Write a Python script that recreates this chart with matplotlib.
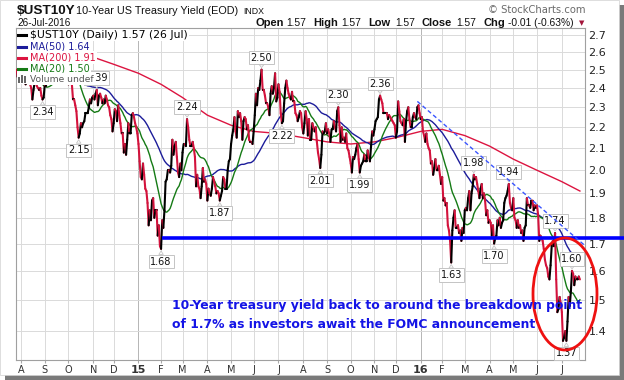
import matplotlib
matplotlib.use("Agg")
import matplotlib.pyplot as plt
import numpy as np
import pandas as pd
from matplotlib.collections import LineCollection
from matplotlib.patches import Ellipse, Rectangle
from matplotlib.lines import Line2D
from matplotlib.ticker import FixedLocator, NullLocator, FixedFormatter

# ---------------- data (daily closes, one list per month) ----------------
jul14 = [2.50, 2.46, 2.56, 2.58]
aug14 = [2.49, 2.48, 2.49, 2.48, 2.42, 2.44, 2.43, 2.46, 2.42, 2.40, 2.34, 2.39, 2.43, 2.43, 2.41, 2.40, 2.39, 2.40, 2.36, 2.34, 2.35]
sep14 = [2.42, 2.41, 2.45, 2.46, 2.47, 2.50, 2.54, 2.55, 2.61, 2.60, 2.59, 2.62, 2.63, 2.57, 2.57, 2.54, 2.57, 2.51, 2.53, 2.48, 2.52]
oct14 = [2.42, 2.44, 2.45, 2.42, 2.34, 2.34, 2.31, 2.28, 2.20, 2.15, 2.17, 2.22, 2.20, 2.22, 2.23, 2.27, 2.27, 2.27, 2.30, 2.34, 2.32, 2.35]
nov14 = [2.36, 2.34, 2.37, 2.39, 2.31, 2.36, 2.37, 2.35, 2.32, 2.34, 2.32, 2.36, 2.34, 2.31, 2.30, 2.26, 2.24, 2.18]
dec14 = [2.22, 2.29, 2.28, 2.23, 2.31, 2.26, 2.22, 2.17, 2.17, 2.08, 2.12, 2.07, 2.14, 2.22, 2.17, 2.17, 2.26, 2.27, 2.25, 2.22, 2.20, 2.17]
jan15 = [2.12, 2.04, 1.97, 1.96, 2.03, 1.98, 1.92, 1.91, 1.86, 1.77, 1.83, 1.79, 1.87, 1.88, 1.80, 1.83, 1.83, 1.73, 1.77, 1.69]
feb15 = [1.68, 1.79, 1.76, 1.83, 1.95, 1.96, 2.00, 2.00, 1.99, 2.02, 2.14, 2.07, 2.11, 2.13, 2.06, 1.99, 1.97, 2.03, 2.00]
mar15 = [2.08, 2.12, 2.12, 2.11, 2.24, 2.20, 2.14, 2.11, 2.11, 2.13, 2.10, 2.06, 1.93, 1.98, 1.93, 1.92, 1.88, 1.93, 2.01, 1.95, 1.96, 1.94]
apr15 = [1.87, 1.92, 1.90, 1.89, 1.92, 1.97, 1.95, 1.93, 1.90, 1.91, 1.90, 1.87, 1.89, 1.91, 1.97, 1.96, 1.92, 1.92, 2.00, 2.04, 2.05]
may15 = [2.12, 2.16, 2.19, 2.25, 2.18, 2.15, 2.28, 2.25, 2.27, 2.23, 2.14, 2.23, 2.25, 2.24, 2.19, 2.21, 2.14, 2.13, 2.13, 2.12]
jun15 = [2.18, 2.26, 2.37, 2.31, 2.40, 2.39, 2.44, 2.50, 2.39, 2.39, 2.36, 2.32, 2.32, 2.30, 2.26, 2.37, 2.41, 2.37, 2.40, 2.48, 2.33, 2.35]
jul15 = [2.42, 2.38, 2.27, 2.22, 2.23, 2.32, 2.40, 2.44, 2.40, 2.37, 2.35, 2.34, 2.38, 2.33, 2.33, 2.27, 2.26, 2.23, 2.25, 2.28, 2.27, 2.20]
aug15 = [2.17, 2.22, 2.28, 2.24, 2.16, 2.24, 2.14, 2.14, 2.22, 2.20, 2.18, 2.20, 2.13, 2.08, 2.05, 2.01, 2.07, 2.18, 2.17, 2.18, 2.22]
sep15 = [2.17, 2.19, 2.17, 2.13, 2.19, 2.19, 2.23, 2.20, 2.18, 2.28, 2.30, 2.21, 2.13, 2.20, 2.14, 2.15, 2.13, 2.17, 2.10, 2.09, 2.06]
oct15 = [2.03, 1.99, 2.06, 2.05, 2.07, 2.10, 2.12, 2.05, 1.99, 2.02, 2.03, 2.04, 2.07, 2.04, 2.04, 2.09, 2.06, 2.04, 2.11, 2.18, 2.16]
nov15 = [2.19, 2.23, 2.24, 2.25, 2.34, 2.36, 2.34, 2.32, 2.27, 2.27, 2.27, 2.27, 2.24, 2.26, 2.25, 2.24, 2.23, 2.22, 2.21]
dec15 = [2.15, 2.18, 2.33, 2.28, 2.23, 2.22, 2.21, 2.24, 2.13, 2.23, 2.28, 2.30, 2.24, 2.20, 2.20, 2.25, 2.27, 2.25, 2.24, 2.30, 2.31, 2.27]
jan16 = [2.24, 2.25, 2.18, 2.16, 2.13, 2.17, 2.12, 2.10, 2.09, 2.03, 2.04, 1.98, 2.01, 2.05, 2.00, 2.00, 2.02, 1.98, 1.94]
feb16 = [1.97, 1.87, 1.88, 1.85, 1.86, 1.77, 1.75, 1.71, 1.63, 1.75, 1.80, 1.83, 1.76, 1.76, 1.77, 1.74, 1.75, 1.71, 1.76, 1.74]
mar16 = [1.83, 1.84, 1.83, 1.88, 1.91, 1.83, 1.90, 1.93, 1.98, 1.96, 1.97, 1.94, 1.91, 1.88, 1.92, 1.94, 1.88, 1.90, 1.87, 1.81, 1.83, 1.78]
apr16 = [1.79, 1.78, 1.73, 1.77, 1.70, 1.72, 1.73, 1.79, 1.77, 1.80, 1.76, 1.78, 1.79, 1.86, 1.88, 1.89, 1.91, 1.94, 1.86, 1.84, 1.83]
may16 = [1.88, 1.80, 1.79, 1.76, 1.79, 1.76, 1.77, 1.74, 1.75, 1.71, 1.76, 1.77, 1.88, 1.85, 1.85, 1.84, 1.87, 1.87, 1.83, 1.85, 1.84]
jun16 = [1.85, 1.81, 1.71, 1.73, 1.72, 1.71, 1.68, 1.64, 1.62, 1.61, 1.58, 1.57, 1.62, 1.69, 1.71, 1.69, 1.74, 1.57, 1.46, 1.47, 1.51, 1.49]
jul16 = [1.46, 1.37, 1.38, 1.40, 1.37, 1.43, 1.51, 1.48, 1.53, 1.60, 1.59, 1.55, 1.58, 1.57, 1.57, 1.58, 1.57]

months = [jul14, aug14, sep14, oct14, nov14, dec14, jan15, feb15, mar15, apr15, may15, jun15,
          jul15, aug15, sep15, oct15, nov15, dec15, jan16, feb16, mar16, apr16, may16, jun16, jul16]
# labels for months aug14 .. jul16
month_labels = ['A', 'S', 'O', 'N', 'D', '15', 'F', 'M', 'A', 'M', 'J', 'J',
                'A', 'S', 'O', 'N', 'D', '16', 'F', 'M', 'A', 'M', 'J', 'J']

# MA(200) at each month start (aug14 .. jul16), plus first/last
ma200_first = 2.66
ma200_month = [2.65, 2.63, 2.60, 2.57, 2.53, 2.48, 2.42, 2.35, 2.26, 2.21, 2.18, 2.17,
               2.15, 2.13, 2.12, 2.13, 2.15, 2.18, 2.19, 2.16, 2.11, 2.05, 2.00, 1.95]
ma200_last = 1.91

# labelled extremes: (month number in `months`, trading day in month, side)
label_points = [(1, 19, 'below'), (3, 9, 'below'), (4, 3, 'above'), (7, 0, 'below'),
                (8, 4, 'above'), (9, 11, 'below'), (11, 7, 'above'), (12, 3, 'below'),
                (13, 15, 'below'), (14, 10, 'above'), (15, 8, 'below'), (16, 5, 'above'),
                (19, 8, 'below'), (20, 8, 'above'), (21, 4, 'below'), (21, 17, 'above'),
                (23, 16, 'above'), (24, 9, 'above'), (24, 4, 'below')]

support_level = 1.72
support_start = (7, 1)
trend_start = (17, 19, 2.33)
trend_end_value = 1.692

y_ticks = [1.4, 1.5, 1.6, 1.7, 1.8, 1.9, 2.0, 2.1, 2.2, 2.3, 2.4, 2.5, 2.6, 2.7]

# ---------------- derived ----------------
values = np.array([v for m in months for v in m])
n = len(values)
month_start = np.cumsum([0] + [len(m) for m in months])[:-1]
idx = np.arange(n)
s = pd.Series(values)
ma20 = s.rolling(20, min_periods=1).mean().values
ma50 = s.rolling(50, min_periods=1).mean().values
ma200_x = np.concatenate([[0], month_start[1:], [n - 1]])
ma200_y = np.concatenate([[ma200_first], ma200_month, [ma200_last]])

W, H = 624, 380
def fx(x):
    return x / W
def fy(y):
    return 1 - y / H

plt.rcParams['font.family'] = ['DejaVu Sans']
fig = plt.figure(figsize=(W / 100, H / 100), dpi=100)
fig.patch.set_facecolor('white')

# frame + shadow
fig.add_artist(Rectangle((fx(5), fy(380)), fx(619), 375 / H, transform=fig.transFigure,
                         facecolor='#7a7a7a', edgecolor='none', zorder=-20))
fig.add_artist(Rectangle((0, fy(375)), fx(619), 375 / H, transform=fig.transFigure,
                         facecolor='white', edgecolor='#d0d0d0', lw=0.5, zorder=-19))

ax = fig.add_axes([fx(16), fy(360), 569 / W, 332 / H])
ax.set_facecolor('white')
ax.set_yscale('log')
xmin, xmax = -0.5, 503.5
ax.set_xlim(xmin, xmax)
ax.set_ylim(1.313, 2.742)

ax.yaxis.set_major_locator(FixedLocator(y_ticks))
ax.yaxis.set_major_formatter(FixedFormatter([f"{t:.1f}" for t in y_ticks]))
ax.yaxis.set_minor_locator(NullLocator())
ax.yaxis.set_minor_formatter(FixedFormatter([]))
ax.yaxis.tick_right()
ax.tick_params(axis='y', length=0, pad=2.5, labelsize=8, labelcolor='#222222')

ax.set_xticks(month_start[1:])
ax.set_xticklabels(month_labels)
ax.tick_params(axis='x', length=2, pad=1.5, labelsize=7, labelcolor='#333333', color='#aaaaaa')
for lbl in ax.get_xticklabels():
    if lbl.get_text() in ('15', '16'):
        lbl.set_fontweight('bold')
        lbl.set_fontsize(8)

ax.grid(True, color='#dadada', lw=0.7)
ax.set_axisbelow(True)
for gl, lab in zip(ax.get_xgridlines(), month_labels):
    if lab in ('15', '16'):
        gl.set_color('#b5b5b5')
for sp in ax.spines.values():
    sp.set_color('#a0a0a0')
    sp.set_linewidth(0.8)

# moving averages
ax.plot(ma200_x, ma200_y, color='#dc1440', lw=1.0, zorder=2)
ax.plot(idx, ma50, color='#1c1c9a', lw=1.0, zorder=2)
ax.plot(idx, ma20, color='#157a15', lw=1.0, zorder=2)

# price line: black for up days, red for down days
pts = np.column_stack([idx, values])
segs = np.stack([pts[:-1], pts[1:]], axis=1)
cols = np.where(np.diff(values) >= 0, '#000000', '#d3123c')
lc = LineCollection(segs, colors=cols, linewidths=1.5, capstyle='round', joinstyle='round', zorder=3)
ax.add_collection(lc)

# price labels
for mi, di, side in label_points:
    i = month_start[mi] + di
    v = values[i]
    above = side == 'above'
    ax.annotate(f"{v:.2f}", xy=(i, v), xytext=(0, 5 if above else -5.5), textcoords='offset points',
                ha='center', va='bottom' if above else 'top', fontsize=7, color='#111111',
                bbox=dict(boxstyle='square,pad=0.18', fc='white', ec='#c4c4c4', lw=0.7),
                arrowprops=dict(arrowstyle='wedge,tail_width=0.45,shrink_factor=0.5', fc='white',
                                ec='#c4c4c4', lw=0.6, shrinkA=0, shrinkB=1.5),
                zorder=4)

# support line (extends past right axis)
xs0 = month_start[support_start[0]] + support_start[1]
x_fig_end = xmin + (624 - 16) / 569 * (xmax - xmin)
ax.plot([xs0, x_fig_end], [support_level, support_level], color='#0000ff', lw=2.6,
        solid_capstyle='butt', clip_on=False, zorder=5)

# dashed down trend line
xt0 = month_start[trend_start[0]] + trend_start[1]
ax.plot([xt0, xmax], [trend_start[2], trend_end_value], color='#3a55ff', lw=1.0,
        ls=(0, (3, 2)), zorder=5, clip_on=False)

# red ellipse highlight
ell = Ellipse(((565 - 16) / 569, (360 - 294) / 332), 64 / 569, 112 / 332, transform=ax.transAxes,
              fill=False, ec='#ee1111', lw=2.0, zorder=6, clip_on=False)
ax.add_patch(ell)

# annotation text
fig.text(fx(172), fy(309.5), '10-Year treasury yield back to around the breakdown point',
         color='#1414e6', fontsize=8.9, fontweight='bold', family='DejaVu Sans', va='baseline')
fig.text(fx(172), fy(327.5), 'of 1.7% as investors await the FOMC announcement',
         color='#1414e6', fontsize=8.9, fontweight='bold', family='DejaVu Sans', va='baseline')

# legend block (white background, then rows)
fig.add_artist(Rectangle((fx(16.5), fy(83.5)), fx(74), 54 / H, transform=fig.transFigure,
                         facecolor='white', edgecolor='none', zorder=4))
legend_rows = [('$UST10Y (Daily) 1.57 (26 Jul)', '#000000', 35, 7.8),
               ('MA(50) 1.64', '#1c1c9a', 46.5, 7.0),
               ('MA(200) 1.91', '#dc1440', 57.5, 7.0),
               ('MA(20) 1.50', '#157a15', 68.5, 7.0)]
for txt, c, y, fs in legend_rows:
    fig.text(fx(29.5), fy(y), txt, color=c, fontsize=fs, va='center', ha='left',
             bbox=dict(facecolor='white', edgecolor='none', pad=1.0), zorder=5)
    fig.add_artist(Line2D([fx(18), fx(25.5)], [fy(y), fy(y)], color=c, lw=2.2,
                          transform=fig.transFigure, zorder=6))
fig.text(fx(29.5), fy(79), 'Volume undef', color='#555555', fontsize=6.6, va='center', ha='left',
         bbox=dict(facecolor='white', edgecolor='none', pad=1.0), zorder=5)
for bx, bh in [(18, 6), (21, 8), (24, 7)]:
    fig.add_artist(Rectangle((fx(bx), fy(83)), fx(2), bh / H, transform=fig.transFigure,
                             facecolor='#666666', edgecolor='none', zorder=6))

# header
fig.text(fx(17), fy(14.5), '$UST10Y', fontsize=9.7, fontweight='bold', family='Liberation Sans',
         va='baseline', color='#111111')
fig.text(fx(76), fy(13.5), '10-Year US Treasury Yield (EOD)', fontsize=7.8, family='Liberation Sans',
         va='baseline', color='#111111')
fig.text(fx(243), fy(13.5), 'INDX', fontsize=6.3, family='Liberation Sans', va='baseline', color='#111111')
fig.text(fx(17), fy(25.5), '26-Jul-2016', fontsize=7.2, family='Liberation Sans', va='baseline',
         color='#111111')
fig.text(fx(585), fy(13), '\u00a9 StockCharts.com', fontsize=7.2, ha='right', va='baseline',
         color='#6a6a6a')
header = [('Open', 255, True), ('1.57', 286.5, False), ('High', 313, True), ('1.57', 341, False),
          ('Low', 368, True), ('1.57', 395.5, False), ('Close', 422, True), ('1.57', 456.5, False),
          ('Chg', 484, True), ('-0.01 (-0.63%)', 508.5, False)]
for t, x, b in header:
    fig.text(fx(x), fy(26), t, fontsize=8 if b else 7.4, fontweight='bold' if b else 'normal',
             family='Liberation Sans', va='baseline', color='#111111')
fig.text(fx(578.5), fy(25.5), '\u25bc', fontsize=5, va='baseline', color='#a3143a')

fig.savefig('out.png', dpi=100, facecolor='white')
